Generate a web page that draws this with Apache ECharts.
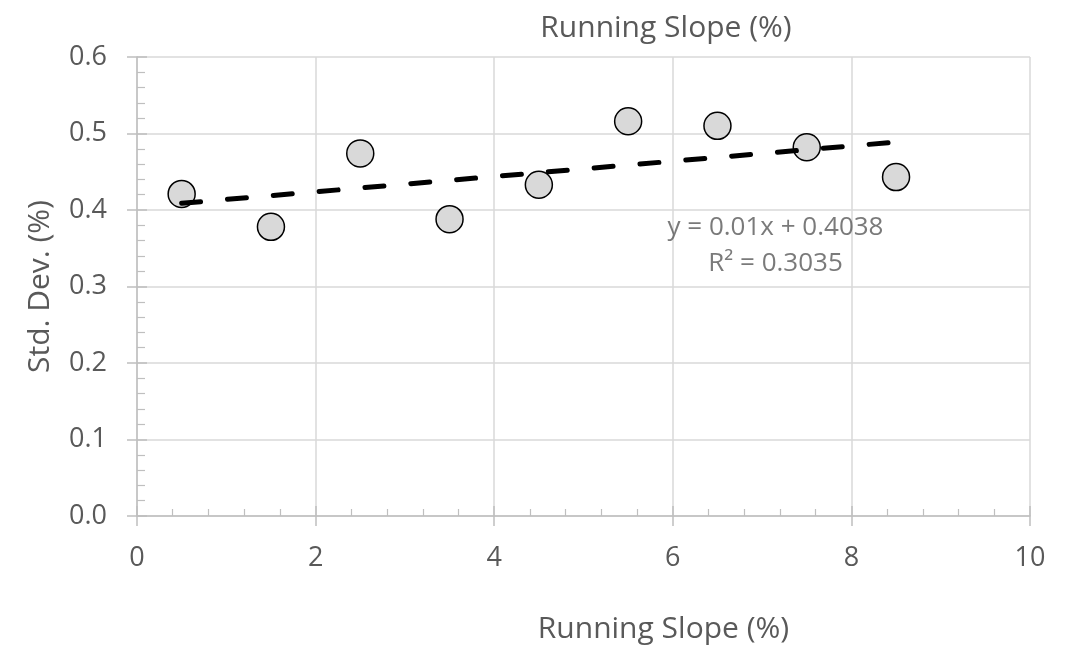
<!DOCTYPE html>
<html>
<head>
<meta charset="utf-8">
<script src="https://cdn.jsdelivr.net/npm/echarts@6/dist/echarts.min.js"></script>
<style>
html,body{margin:0;padding:0;background:#fff;}
#chart{width:1066px;height:649px;}
</style>
</head>
<body>
<div id="chart"></div>
<script>
// ---- data ----
var slopeX = [0.5, 1.5, 2.5, 3.5, 4.5, 5.5, 6.5, 7.5, 8.5];
var stdDev = [0.421, 0.378, 0.474, 0.388, 0.433, 0.516, 0.510, 0.482, 0.443];
var trendCoef = [0.01, 0.4038];           // slope, intercept (from chart label)
var trendRange = [0.5, 8.5];
var xTicks = [0, 2, 4, 6, 8, 10];
var yTicks = [0.0, 0.1, 0.2, 0.3, 0.4, 0.5, 0.6];
var titleText = 'Running Slope (%)';
var xName = 'Running Slope (%)';
var yName = 'Std. Dev. (%)';
var eqLines = ['y = 0.01x + 0.4038', 'R² = 0.3035'];
var eqAnchor = [7.15, 0.354];

var FONT = '"Open Sans", "Noto Sans", sans-serif';
var TXT = '#595959';

var points = slopeX.map(function (x, i) { return [x, stdDev[i]]; });
var trend = trendRange.map(function (x) { return [x, trendCoef[0] * x + trendCoef[1]]; });

var chart = echarts.init(document.getElementById('chart'), null, {renderer: 'canvas'});
var gridDef = {left: 137, right: 36, top: 57, bottom: 133};

var option = {
  animation: false,
  backgroundColor: '#fff',
  grid: gridDef,
  xAxis: [{
    type: 'value', min: xTicks[0], max: xTicks[xTicks.length - 1], interval: 2,
    axisLine: {show: true, onZero: false, lineStyle: {color: '#bfbfbf', width: 1.5}},
    axisTick: {show: true, inside: false, length: 10, lineStyle: {color: '#bfbfbf', width: 1.5}},
    axisLabel: {color: TXT, fontFamily: FONT, fontSize: 27, margin: 29},
    splitLine: {show: true, lineStyle: {color: '#d9d9d9', width: 1.5}},
    name: xName, nameLocation: 'middle', nameGap: 98,
    nameTextStyle: {color: TXT, fontFamily: FONT, fontSize: 30, padding: [0, 0, 0, 160]}
  }, {
    type: 'value', min: xTicks[0], max: xTicks[xTicks.length - 1], interval: 2,
    position: 'bottom',
    axisLine: {show: false},
    axisTick: {show: true, inside: true, length: 10, lineStyle: {color: '#bfbfbf', width: 1.5}},
    minorTick: {show: true, splitNumber: 5, length: 7, lineStyle: {color: '#bfbfbf', width: 1.2}},
    axisLabel: {show: false},
    splitLine: {show: false}
  }],
  yAxis: [{
    type: 'value', min: yTicks[0], max: yTicks[yTicks.length - 1], interval: 0.1,
    axisLine: {show: true, onZero: false, lineStyle: {color: '#bfbfbf', width: 1.5}},
    axisTick: {show: true, inside: false, length: 10, lineStyle: {color: '#bfbfbf', width: 1.5}},
    axisLabel: {color: TXT, fontFamily: FONT, fontSize: 27, margin: 30,
      formatter: function (v) { return v.toFixed(1); }},
    splitLine: {show: true, lineStyle: {color: '#d9d9d9', width: 1.5}},
    name: yName, nameLocation: 'middle', nameGap: 82, nameRotate: 90,
    nameTextStyle: {color: TXT, fontFamily: FONT, fontSize: 30}
  }, {
    type: 'value', min: yTicks[0], max: yTicks[yTicks.length - 1], interval: 0.1,
    position: 'left',
    axisLine: {show: false},
    axisTick: {show: true, inside: true, length: 10, lineStyle: {color: '#bfbfbf', width: 1.5}},
    minorTick: {show: true, splitNumber: 5, length: 8, lineStyle: {color: '#bfbfbf', width: 1.2}},
    axisLabel: {show: false},
    splitLine: {show: false}
  }],
  graphic: [{
    type: 'text', x: 666, y: 28, z: 10,
    style: {text: titleText, fill: TXT, font: '30px ' + FONT, textAlign: 'center', textVerticalAlign: 'middle'}
  }],
  series: [{
    type: 'scatter', xAxisIndex: 0, yAxisIndex: 0,
    data: points, symbol: 'circle', symbolSize: 27, z: 2,
    itemStyle: {color: '#d9d9d9', borderColor: '#000', borderWidth: 1.5, opacity: 1}
  }, {
    type: 'line', xAxisIndex: 0, yAxisIndex: 0,
    data: trend, showSymbol: false, symbol: 'none', z: 3,
    lineStyle: {color: '#000', width: 5, type: [19, 27], cap: 'round'}
  }, {
    type: 'scatter', xAxisIndex: 0, yAxisIndex: 0, z: 4, silent: true,
    symbolSize: 0,
    data: [eqAnchor],
    label: {show: true, position: 'inside', color: TXT, fontFamily: FONT, fontSize: 26,
      lineHeight: 36, align: 'center',
      formatter: function () { return eqLines.join('\n'); }}
  }]
};
chart.setOption(option);
</script>
</body>
</html>
